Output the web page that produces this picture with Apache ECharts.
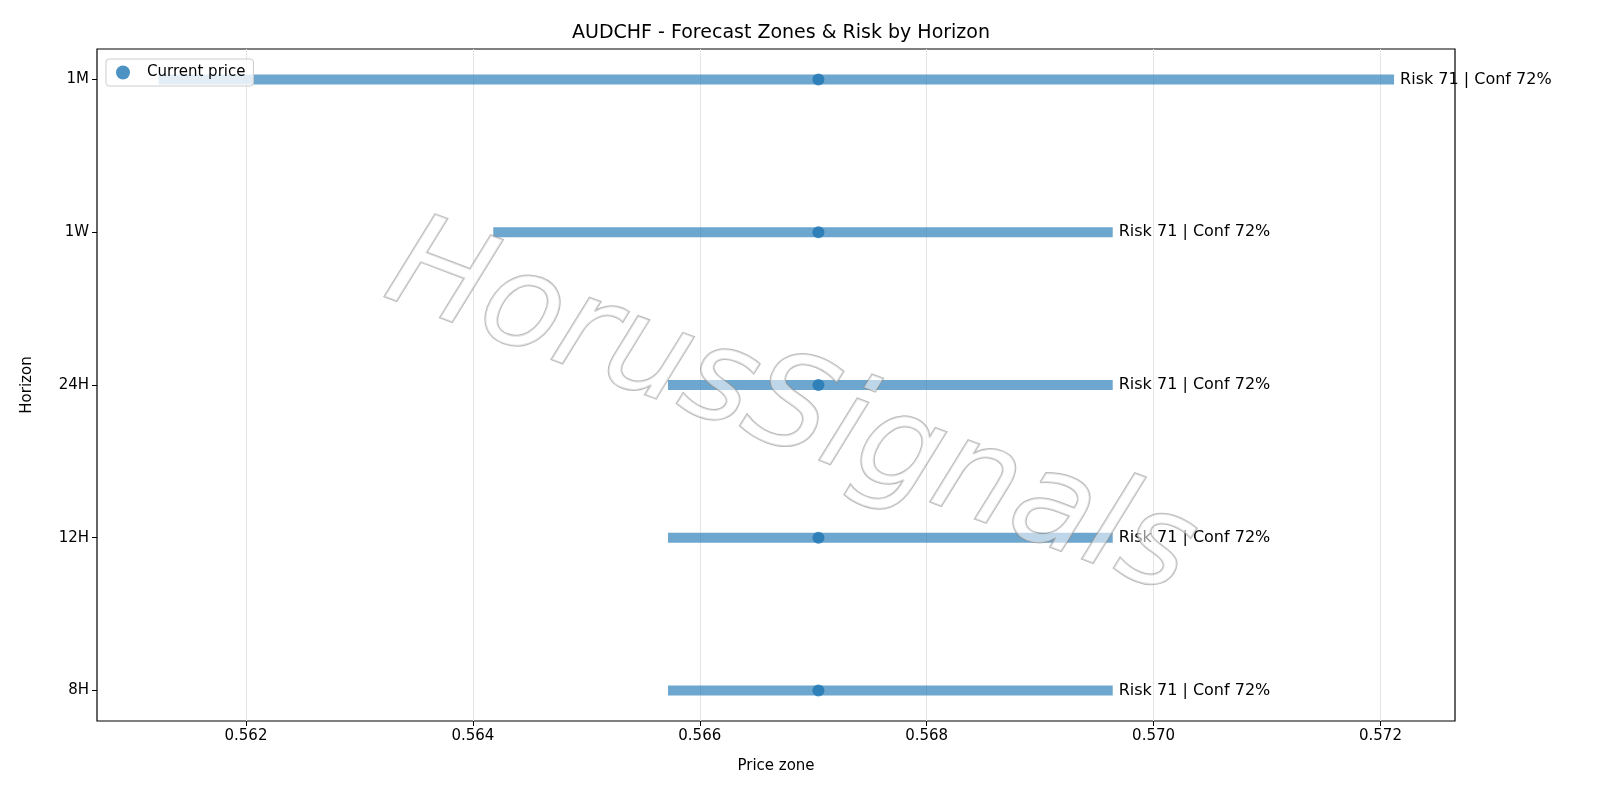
<!DOCTYPE html>
<html><head><meta charset="utf-8">
<script src="https://cdn.jsdelivr.net/npm/echarts@6/dist/echarts.min.js"></script>
<style>html,body{margin:0;background:#fff}#c{width:1600px;height:800px}</style>
</head><body><div id="c"></div>
<script>
const horizons = ['8H','12H','24H','1W','1M'];
const lows = [0.56572,0.56572,0.56572,0.56418,0.56123];
const highs = [0.56964,0.56964,0.56964,0.56964,0.57212];
const current = [0.567046,0.567046,0.567046,0.567046,0.567046];
const risk = [71,71,71,71,71];
const conf = [72,72,72,72,72];
const xTicks = [0.562,0.564,0.566,0.568,0.570,0.572];

const chart = echarts.init(document.getElementById('c'));
const font = 'DejaVu Sans';
chart.setOption({
  animation:false,
  textStyle:{fontFamily:font},
  title:{text:'AUDCHF - Forecast Zones & Risk by Horizon',left:776,textAlign:'center',top:19,textStyle:{fontSize:19,fontWeight:'normal',color:'#000',fontFamily:font}},
  grid:{left:97,right:145,top:49,bottom:79,show:true,borderColor:'#000',borderWidth:1.2},
  legend:{data:['Current price'],left:106,top:59,orient:'vertical',itemWidth:14,itemHeight:14,
    borderColor:'#ccc',borderWidth:1,borderRadius:3,padding:[6,8,6,10],backgroundColor:'rgba(255,255,255,0.8)',
    textStyle:{fontSize:15,color:'#000',fontFamily:font,padding:[0,0,0,12]}},
  xAxis:{type:'value',min:0.560687,max:0.572657,name:'Price zone',nameLocation:'middle',nameGap:38,
    nameTextStyle:{fontSize:15,color:'#000'},
    axisLine:{show:false,onZero:false},axisTick:{show:true,customValues:xTicks,length:5,lineStyle:{color:'#000'}},
    axisLabel:{customValues:xTicks,fontSize:15,color:'#000',formatter:v=>v.toFixed(3)},
    splitLine:{show:true,lineStyle:{color:'#e5e5e5'}}},
  yAxis:{type:'value',min:-0.2,max:4.2,name:'Horizon',nameLocation:'middle',nameGap:62,
    nameTextStyle:{fontSize:15,color:'#000'},
    axisLine:{show:false,onZero:false},axisTick:{show:true,customValues:[0,1,2,3,4],length:5,lineStyle:{color:'#000'}},
    axisLabel:{customValues:[0,1,2,3,4],fontSize:15,color:'#000',formatter:v=>horizons[Math.round(v)]||''},
    splitLine:{show:false}},
  graphic:[{type:'text',x:790,y:413,rotation:-0.36,z:100,silent:true,
    style:{text:'HorusSignals',font:'italic 130px DejaVu Sans',fill:'rgba(255,255,255,0.55)',stroke:'rgba(140,140,140,0.6)',lineWidth:2,
      textAlign:'center',textVerticalAlign:'middle',shadowColor:'rgba(0,0,0,0.3)',shadowBlur:3,shadowOffsetX:6,shadowOffsetY:6}}],
  series:[
    {type:'custom',name:'zones',data:horizons.map((h,i)=>[i,lows[i],highs[i]]),
      renderItem:(p,api)=>{const y=api.value(0);const a=api.coord([api.value(1),y]);const b=api.coord([api.value(2),y]);
        return {type:'group',children:[
          {type:'line',shape:{x1:a[0],y1:a[1],x2:b[0],y2:b[1]},style:{stroke:'rgba(31,119,180,0.65)',lineWidth:10}},
          {type:'text',x:b[0]+6,y:b[1],style:{text:'Risk '+risk[y]+' | Conf '+conf[y]+'%',fill:'#000',font:'16px DejaVu Sans',textVerticalAlign:'middle'}}]};},
      encode:{x:[1,2],y:0},z:2},
    {type:'scatter',name:'Current price',data:horizons.map((h,i)=>[current[i],i]),symbolSize:12,itemStyle:{color:'#1f77b4'},z:3}
  ]
});
</script></body></html>
